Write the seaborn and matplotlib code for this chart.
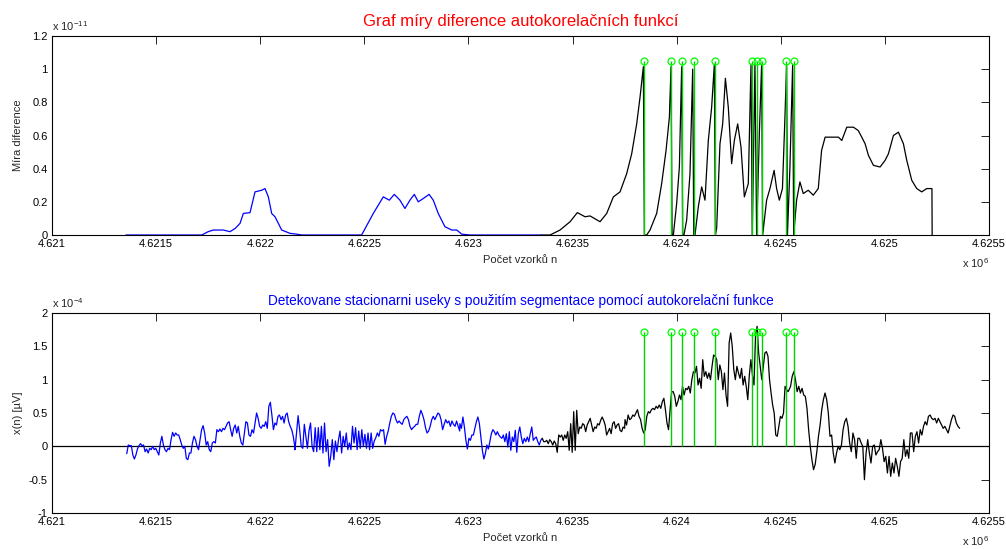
import numpy as np
import matplotlib
matplotlib.use('Agg')
import matplotlib.pyplot as plt
import seaborn as sns

# ---- top panel: difference measure of autocorrelation functions (units of 1e-11) ----
top_blue_n = [4621355, 4621719, 4621750, 4621775, 4621823, 4621855, 4621880, 4621903, 4621919,
              4621951, 4621975, 4622007, 4622023, 4622039, 4622055, 4622071, 4622103, 4622143,
              4622175, 4622200, 4622487, 4622543, 4622591, 4622620, 4622644, 4622671, 4622695,
              4622719, 4622740, 4622759, 4622783, 4622811, 4622831, 4622855, 4622887, 4622920,
              4622944, 4622968, 4623008, 4623350]
top_blue_v = [0, 0, 0.02, 0.03, 0.03, 0.02, 0.04, 0.07, 0.13,
              0.135, 0.26, 0.27, 0.28, 0.23, 0.13, 0.11, 0.03, 0.01,
              0.005, 0, 0, 0.13, 0.23, 0.21, 0.245, 0.21, 0.16,
              0.21, 0.245, 0.20, 0.22, 0.245, 0.21, 0.13, 0.05, 0.03,
              0.03, 0.005, 0, 0]

top_black_n = [4623350, 4623392, 4623440, 4623488, 4623523, 4623560, 4623584, 4623632, 4623664,
               4623696, 4623728, 4623760, 4623784, 4623808, 4623824, 4623840, 4623845, 4623856,
               4623872, 4623904, 4623928, 4623949, 4623965, 4623973, 4623978, 4623984, 4624000,
               4624013, 4624024, 4624029, 4624035, 4624048, 4624064, 4624077, 4624082, 4624088,
               4624104, 4624120, 4624136, 4624152, 4624168, 4624181, 4624186, 4624192, 4624208,
               4624221, 4624234, 4624248, 4624264, 4624277, 4624293, 4624309, 4624325, 4624344,
               4624357, 4624363, 4624376, 4624384, 4624397, 4624408, 4624413, 4624432, 4624448,
               4624468, 4624480, 4624493, 4624508, 4624520, 4624528, 4624532, 4624544, 4624557,
               4624562, 4624576, 4624592, 4624608, 4624632, 4624656, 4624680, 4624696, 4624713,
               4624745, 4624777, 4624793, 4624817, 4624849, 4624872, 4624889, 4624905, 4624921,
               4624945, 4624977, 4625001, 4625017, 4625041, 4625065, 4625089, 4625105, 4625129,
               4625153, 4625177, 4625201, 4625226, 4625227]
top_black_v = [0, 0, 0.03, 0.08, 0.135, 0.11, 0.115, 0.08, 0.13,
               0.23, 0.26, 0.37, 0.49, 0.67, 0.83, 1.015, 0, 0,
               0.03, 0.13, 0.31, 0.51, 0.71, 1.015, 0, 0, 0.19,
               0.41, 1.015, 0, 0, 0.09, 0.37, 1.0, 0, 0,
               0.17, 0.29, 0.21, 0.57, 0.77, 1.03, 0, 0.04, 0.55,
               0.67, 0.945, 0.77, 0.43, 0.57, 0.67, 0.53, 0.23, 0.31,
               1.03, 0, 1.03, 0, 0.61, 1.03, 0, 0.21, 0.28,
               0.39, 0.28, 0.21, 0.28, 0.71, 1.03, 0, 0.41, 1.03,
               0, 0.21, 0.32, 0.25, 0.27, 0.24, 0.28, 0.51, 0.59,
               0.59, 0.59, 0.57, 0.65, 0.65, 0.63, 0.59, 0.55, 0.48,
               0.42, 0.41, 0.45, 0.49, 0.60, 0.62, 0.55, 0.45, 0.33,
               0.28, 0.26, 0.28, 0.28, 0]

# detected segment boundaries (stems)
stem_n = [4623842, 4623973, 4624024, 4624082, 4624184, 4624360, 4624384, 4624411, 4624527, 4624562]
stem_top = 1.05      # x 1e-11
stem_bottom = 1.72   # x 1e-4

# ---- bottom panel: signal x(n) (units of 1e-4), read in five pieces ----
seg_span = [(4621359, 4622166), (4622167, 4622958), (4622959, 4623750),
            (4623752, 4624543), (4624547, 4625359)]
sig_1 = [-0.11, 0.02, 0.01, 0.01, -0.13, -0.19, -0.13, -0.04, 0.01, 0.04, 0.01, 0.02, -0.08, -0.04,
         -0.10, -0.03, -0.05, 0.0, -0.05, -0.03, -0.08, -0.13, 0.05, 0.15, 0.02, -0.05, -0.08, -0.03,
         -0.05, 0.10, 0.21, 0.15, 0.20, 0.17, 0.17, 0.10, 0.02, -0.03, 0.0, -0.18, -0.20, -0.10, -0.10,
         0.05, 0.15, 0.10, 0.0, -0.05, 0.10, 0.25, 0.31, 0.20, 0.02, 0.07, -0.05, -0.08, 0.05, 0.07,
         0.05, 0.25, 0.22, 0.26, 0.22, 0.27, 0.25, 0.30, 0.35, 0.37, 0.25, 0.15, 0.27, 0.32, 0.20,
         0.30, 0.15, 0.05, 0.02, 0.20, 0.37, 0.35, 0.17, 0.15, 0.25, 0.20, 0.35, 0.50, 0.42, 0.30,
         0.27, 0.32, 0.30, 0.37, 0.27, 0.60, 0.66, 0.47, 0.25, 0.35, 0.32, 0.45, 0.47, 0.40, 0.45,
         0.35, 0.47, 0.50, 0.37, 0.30, 0.25, 0.15, 0.0]
sig_2 = [-0.05, 0.20, 0.46, 0.25, 0.0, -0.03, 0.33, 0.15, -0.03, 0.23, 0.35, 0.0, -0.08, 0.28,
         -0.08, 0.28, -0.05, 0.30, -0.10, 0.35, -0.08, 0.10, -0.30, -0.15, 0.10, -0.20, 0.08, -0.08,
         0.10, 0.23, -0.10, 0.15, 0.0, 0.20, -0.05, 0.05, -0.05, 0.30, 0.05, 0.28, -0.05, 0.23,
         -0.03, 0.25, 0.0, 0.18, -0.03, 0.20, -0.05, 0.20, -0.03, 0.08, 0.13, 0.20, 0.15, 0.25,
         0.23, 0.25, 0.03, 0.15, 0.23, 0.35, 0.45, 0.50, 0.48, 0.40, 0.35, 0.38, 0.35, 0.33, 0.40,
         0.43, 0.45, 0.40, 0.30, 0.25, 0.28, 0.30, 0.33, 0.33, 0.45, 0.54, 0.48, 0.40, 0.28, 0.20,
         0.23, 0.30, 0.40, 0.45, 0.40, 0.45, 0.50, 0.48, 0.40, 0.25, 0.33, 0.40, 0.35, 0.38, 0.30,
         0.38, 0.33, 0.30, 0.38, 0.30, 0.23]
sig_3 = [0.34, 0.27, 0.44, 0.29, 0.09, -0.04, 0.12, 0.09, 0.17, 0.17, 0.27, 0.37, 0.44, 0.34,
         0.14, -0.06, -0.19, -0.11, 0.02, -0.04, 0.07, 0.19, 0.25, 0.22, 0.17, 0.22, 0.17, 0.14,
         0.12, 0.17, 0.07, 0.19, -0.01, 0.22, -0.06, 0.14, 0.07, 0.24, -0.09, 0.19, 0.29, 0.14,
         0.04, 0.12, 0.07, 0.14, 0.07, 0.19, 0.29, 0.09, 0.12, 0.14, 0.07, 0.02, 0.09, 0.12, 0.07,
         0.07, 0.09, 0.04, 0.10, 0.07, 0.02, 0.08, 0.04, -0.09, 0.17, 0.14, 0.17, 0.09, 0.17, 0.12,
         0.22, -0.06, 0.34, -0.09, 0.52, -0.06, 0.54, 0.19, 0.29, 0.27, 0.34, 0.32, 0.22, 0.32,
         0.37, 0.42, 0.32, 0.22, 0.29, 0.27, 0.34, 0.32, 0.39, 0.44, 0.39, 0.32, 0.17, 0.22, 0.27,
         0.19, 0.34, 0.37, 0.27, 0.32, 0.34, 0.24, 0.22, 0.29, 0.27]
sig_4 = [0.40, 0.32, 0.47, 0.40, 0.42, 0.47, 0.45, 0.50, 0.55, 0.45, 0.40, 0.27, 0.20, 0.25,
         0.45, 0.52, 0.50, 0.55, 0.57, 0.55, 0.60, 0.57, 0.62, 0.57, 0.67, 0.72, 0.55, 0.35, 0.25,
         0.55, 0.82, 0.82, 0.75, 0.60, 0.67, 0.77, 0.70, 0.90, 0.77, 0.87, 0.85, 0.90, 0.80, 1.00,
         1.12, 1.10, 1.20, 0.92, 1.02, 0.87, 1.30, 1.05, 1.12, 1.02, 1.10, 1.00, 1.20, 1.37, 1.35,
         1.30, 1.00, 1.22, 1.12, 0.85, 1.10, 0.77, 0.60, 1.55, 1.70, 1.50, 1.15, 1.00, 1.20, 1.10,
         1.02, 1.17, 0.92, 1.05, 0.90, 0.70, 1.07, 1.30, 1.07, 0.92, 1.67, 1.80, 1.40, 1.20, 1.00,
         1.20, 1.40, 1.42, 1.35, 1.00, 0.80, 0.62, 0.50, 0.17, 0.15, 0.30, 0.45, 0.42, 0.50, 0.90,
         0.85, 0.82, 0.87]
sig_5 = [0.90, 1.05, 1.12, 1.00, 0.82, 0.90, 0.80, 0.87, 0.77, 0.75, 0.57, 0.25, 0.0, -0.20,
         -0.35, -0.27, -0.08, 0.15, 0.32, 0.55, 0.70, 0.80, 0.70, 0.50, 0.15, 0.17, -0.10, -0.25,
         -0.10, 0.0, -0.05, 0.02, 0.25, 0.37, 0.42, 0.30, 0.05, -0.08, 0.20, 0.10, -0.18, 0.12,
         0.12, 0.05, 0.0, -0.50, -0.10, 0.10, -0.10, -0.25, 0.0, 0.02, -0.13, -0.08, -0.05, 0.10,
         -0.03, -0.23, -0.15, -0.40, -0.15, -0.45, -0.25, -0.40, -0.18, -0.30, -0.45, -0.23, -0.18,
         0.10, -0.15, -0.05, -0.18, 0.20, 0.20, -0.08, 0.15, 0.22, 0.05, 0.25, 0.17, 0.30, 0.37,
         0.32, 0.45, 0.47, 0.42, 0.40, 0.42, 0.35, 0.42, 0.37, 0.32, 0.27, 0.30, 0.25, 0.20, 0.30,
         0.40, 0.47, 0.45, 0.35, 0.30, 0.27]
split_n = 4623350   # end of the blue (stationary) part

x_ticks = [4.621, 4.6215, 4.622, 4.6225, 4.623, 4.6235, 4.624, 4.6245, 4.625, 4.6255]
top_yticks = [0, 0.2, 0.4, 0.6, 0.8, 1, 1.2]
bot_yticks = [-1, -0.5, 0, 0.5, 1, 1.5, 2]

# join the signal pieces on the sample axis
sig_n = np.concatenate([np.linspace(a, b, len(s)) for (a, b), s in
                        zip(seg_span, [sig_1, sig_2, sig_3, sig_4, sig_5])])
sig_v = np.concatenate([sig_1, sig_2, sig_3, sig_4, sig_5])
cut = np.searchsorted(sig_n, split_n)

sns.set_style('white')
plt.rcParams['font.family'] = ['Liberation Sans', 'DejaVu Sans']
plt.rcParams['mathtext.fontset'] = 'custom'
plt.rcParams['mathtext.rm'] = 'Liberation Sans'

W, H = 1006, 549
fig = plt.figure(figsize=(W / 100, H / 100), dpi=100)
ax1 = fig.add_axes([52 / W, 1 - 235 / H, 937 / W, 199 / H])
ax2 = fig.add_axes([52 / W, 1 - 513 / H, 937 / W, 200 / H])

green_line = '#00d000'
green_mark = '#00ff00'
stem_x = np.array(stem_n) / 1e6

# top panel
sns.lineplot(x=np.array(top_blue_n) / 1e6, y=top_blue_v, ax=ax1, color='#0000ff',
             lw=0.9, sort=False, estimator=None)
sns.lineplot(x=np.array(top_black_n) / 1e6, y=top_black_v, ax=ax1, color='k',
             lw=0.9, sort=False, estimator=None)
ax1.vlines(stem_x, 0, stem_top, color=green_line, lw=1.0, zorder=3)
ax1.plot(stem_x, [stem_top] * len(stem_x), 'o', mfc='none', mec=green_mark, ms=5, mew=0.9,
         zorder=4)
ax1.set_ylim(0, 1.2)
ax1.set_yticks(top_yticks)
ax1.set_yticklabels(['%g' % t for t in top_yticks])
ax1.set_title('Graf míry diference autokorelačních funkcí', color='#ff0000', fontsize=12, pad=7)
ax1.set_ylabel('Míra diference', fontsize=8)
ax1.annotate(r'x 10$^{\mathregular{-11}}$', xy=(0, 1), xycoords='axes fraction', xytext=(0, 3.5),
             textcoords='offset points', ha='left', va='baseline', fontsize=8)

# bottom panel
ax2.axhline(0, color='k', lw=0.9, zorder=1)
sns.lineplot(x=sig_n[:cut + 1] / 1e6, y=sig_v[:cut + 1], ax=ax2, color='#0000ff',
             lw=0.9, sort=False, estimator=None)
sns.lineplot(x=sig_n[cut:] / 1e6, y=sig_v[cut:], ax=ax2, color='k',
             lw=0.9, sort=False, estimator=None)
ax2.vlines(stem_x, 0, stem_bottom, color=green_line, lw=1.0, zorder=3)
ax2.plot(stem_x, [stem_bottom] * len(stem_x), 'o', mfc='none', mec=green_mark, ms=5, mew=0.9,
         zorder=4)
ax2.set_ylim(-1, 2)
ax2.set_yticks(bot_yticks)
ax2.set_yticklabels(['%g' % t for t in bot_yticks])
ax2.set_title('Detekovane stacionarni useky s použitím segmentace pomocí autokorelační funkce',
              color='#0000ff', fontsize=9.8, pad=5.5)
ax2.set_ylabel('x(n) [µV]', fontsize=8)
ax2.annotate(r'x 10$^{\mathregular{-4}}$', xy=(0, 1), xycoords='axes fraction', xytext=(0, 3.5),
             textcoords='offset points', ha='left', va='baseline', fontsize=8)

for ax in (ax1, ax2):
    ax.set_xlim(4.621, 4.6255)
    ax.set_xticks(x_ticks)
    ax.set_xticklabels(['%g' % t for t in x_ticks])
    ax.set_xlabel('Počet vzorků n', fontsize=8)
    ax.xaxis.set_label_coords(0.5, -0.10)
    ax.yaxis.set_label_coords(-0.031, 0.5)
    ax.tick_params(direction='in', top=True, right=True, length=6, width=0.6,
                   labelsize=8, pad=3, colors='k')
    for sp in ax.spines.values():
        sp.set_color('k')
        sp.set_linewidth(0.8)
    ax.annotate(r'x 10$^{\mathregular{6}}$', xy=(1, 0), xycoords='axes fraction', xytext=(0, -24),
                textcoords='offset points', ha='right', va='baseline', fontsize=8)

fig.savefig('out.png', dpi=100, facecolor='white')
